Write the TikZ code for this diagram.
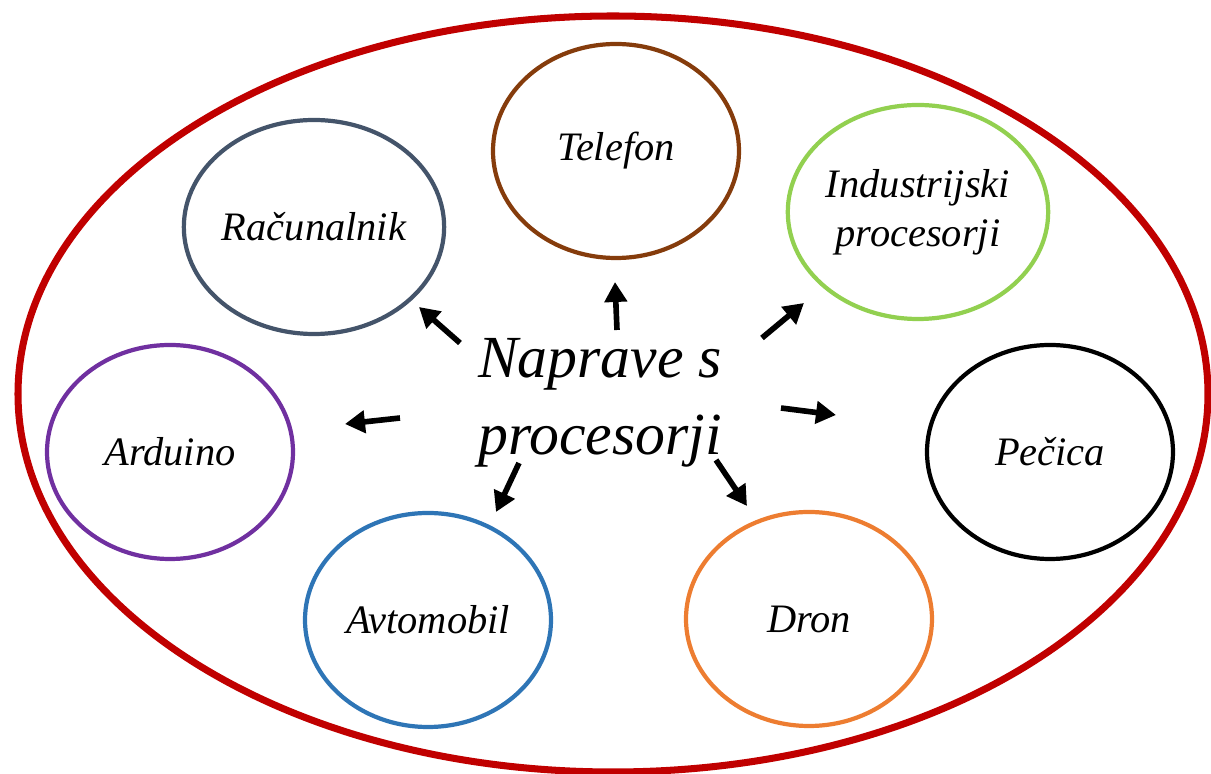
\documentclass[tikz,border=0pt]{standalone}
\usepackage{fontspec}
\setmainfont{Liberation Serif}[ItalicFont={Liberation Serif Italic}]
\usetikzlibrary{shapes.geometric,arrows.meta}

\definecolor{rdeca}{RGB}{192,0,0}
\definecolor{rjava}{RGB}{133,60,12}
\definecolor{siva}{RGB}{68,84,106}
\definecolor{zelena}{RGB}{146,208,80}
\definecolor{vijolicna}{RGB}{112,48,160}
\definecolor{modra}{RGB}{46,117,182}
\definecolor{oranzna}{RGB}{237,125,49}

\begin{document}
\begin{tikzpicture}[
		krog/.style={
			draw=#1,
			ellipse,
			minimum width=2.46cm,
			minimum height=2.14cm,
			inner sep=0pt,
			line width=1.2pt,
			align=center,
			font=\fontsize{11.5}{14}\selectfont\itshape
		},
		puscica/.style={
			-{Triangle[length=0.2cm,width=0.22cm]},
			line width=1.6pt
		}
		]
		\useasboundingbox (0,0) rectangle (12.11,-7.74);
		
		\draw[rdeca, line width=2pt] (6.13,-3.94) ellipse (5.95cm and 3.78cm);
		
		\node[font=\fontsize{17}{22}\selectfont\itshape, align=center] (hub) at (6.00,-4.03) {Naprave s\\procesorji};
		
		\node[krog=rjava] (tel) at (6.16,-1.51) {Telefon};
		\node[krog=siva] (rac) at (3.14,-2.27) {Računalnik};
		\node[krog=zelena] (ind) at (9.18,-2.12) {Industrijski\\procesorji};
		\node[krog=vijolicna] (ard) at (1.70,-4.52) {Arduino};
		\node[krog=black] (pec) at (10.50,-4.52) {Pečica};
		\node[krog=modra] (avt) at (4.28,-6.20) {Avtomobil};
		\node[krog=oranzna] (dro) at (8.09,-6.19) {Dron};
		
		%Puscice
		\coordinate (s1) at (4.60,-3.43); \coordinate (e1) at (4.19,-3.07);
		\coordinate (s2) at (6.17,-3.30); \coordinate (e2) at (6.15,-2.82);
		\coordinate (s3) at (7.62,-3.38); \coordinate (e3) at (8.04,-3.03);
		\coordinate (s4) at (4.00,-4.18); \coordinate (e4) at (3.45,-4.24);
		\coordinate (s5) at (7.81,-4.08); \coordinate (e5) at (8.36,-4.15);
		\coordinate (s6) at (5.19,-4.63); \coordinate (e6) at (4.96,-5.12);
		\coordinate (s7) at (7.16,-4.60); \coordinate (e7) at (7.47,-5.06);
		\foreach \i in {1,...,7}
			\draw[puscica] (s\i) -- (e\i);
		
	\end{tikzpicture}
\end{document}
